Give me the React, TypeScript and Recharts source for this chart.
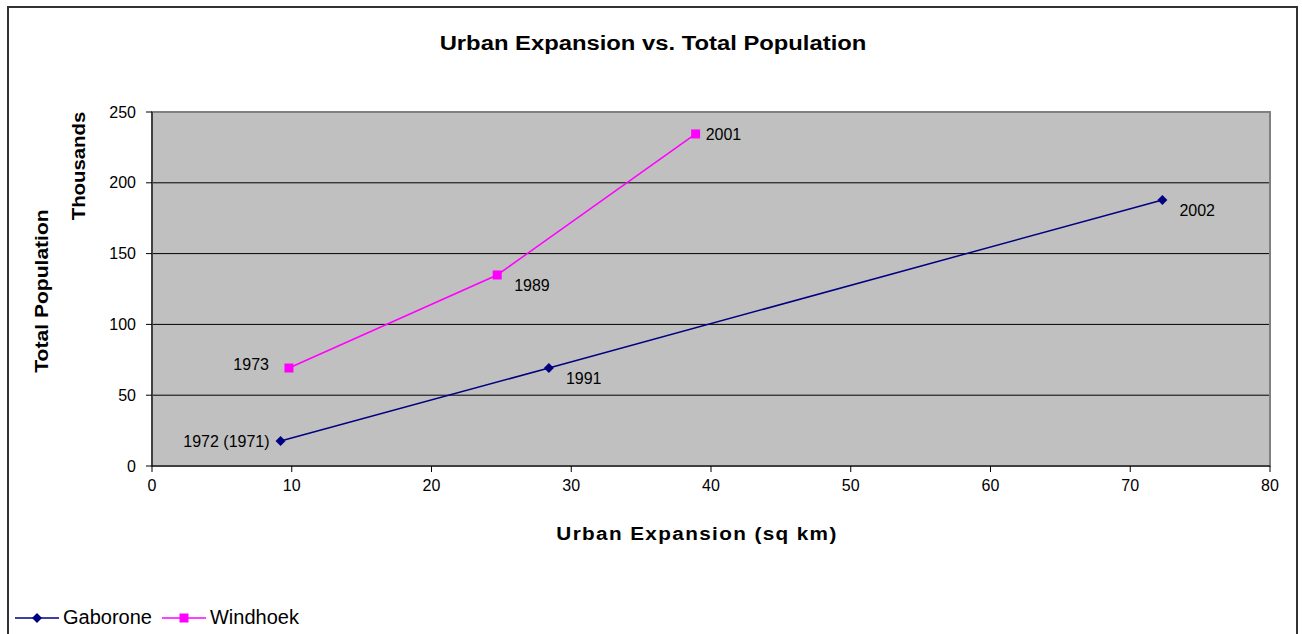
import React from 'react';
import {
  ComposedChart,
  Line,
  XAxis,
  YAxis,
  CartesianGrid,
  ReferenceArea,
  LabelList,
} from 'recharts';

const gaboroneX = [9.2, 28.4, 72.3];
const gaboroneY = [17.7, 69.2, 187.9];
const gaboroneYears = ['1972 (1971)', '1991', '2002'];

const windhoekX = [9.8, 24.7, 38.9];
const windhoekY = [69.2, 134.9, 234.5];
const windhoekYears = ['1973', '1989', '2001'];

const xTicks = [0, 10, 20, 30, 40, 50, 60, 70, 80];
const yTicks = [0, 50, 100, 150, 200, 250];

const gaborone = gaboroneX.map((x, i) => ({ x, y: gaboroneY[i], year: gaboroneYears[i] }));
const windhoek = windhoekX.map((x, i) => ({ x, y: windhoekY[i], year: windhoekYears[i] }));

// where each year label sits relative to its point
const gaboronePlace = ['left', 'belowRight', 'belowRight'];
const windhoekPlace = ['farLeft', 'belowRight', 'right'];

const FONT = '"Liberation Sans", Arial, sans-serif';
const NAVY = '#000080';
const MAGENTA = '#ff00ff';

function Diamond(props: any) {
  const { cx, cy } = props;
  if (cx == null || cy == null) return null;
  return <path d={`M${cx},${cy - 5}L${cx + 5},${cy}L${cx},${cy + 5}L${cx - 5},${cy}Z`} fill={NAVY} />;
}

function Square(props: any) {
  const { cx, cy } = props;
  if (cx == null || cy == null) return null;
  return <rect x={cx - 4.5} y={cy - 4.5} width={9} height={9} fill={MAGENTA} />;
}

function yearLabel(places: string[]) {
  return (props: any) => {
    const { x, y, value, index } = props;
    const p = places[index];
    let tx = x + 10;
    let ty = y;
    let anchor: 'start' | 'end' = 'start';
    if (p === 'left') {
      tx = x - 11;
      anchor = 'end';
    } else if (p === 'farLeft') {
      tx = x - 20;
      ty = y - 4;
      anchor = 'end';
    } else if (p === 'belowRight') {
      tx = x + 17;
      ty = y + 10;
    }
    return (
      <text x={tx} y={ty} dy="0.35em" textAnchor={anchor} fontSize={16} fontFamily={FONT} fill="#000">
        {value}
      </text>
    );
  };
}

function LegendItem({ color, marker, label }: { color: string; marker: 'diamond' | 'square'; label: string }) {
  return (
    <span style={{ display: 'inline-flex', alignItems: 'center', marginRight: 10 }}>
      <svg width={44} height={12} style={{ marginRight: 4 }}>
        <line x1={0} y1={6} x2={44} y2={6} stroke={color} strokeWidth={1.5} />
        {marker === 'diamond' ? (
          <path d="M22,1L27,6L22,11L17,6Z" fill={color} />
        ) : (
          <rect x={17.5} y={1.5} width={9} height={9} fill={color} />
        )}
      </svg>
      <span>{label}</span>
    </span>
  );
}

const centered = (x: number, y: number, t: string): React.CSSProperties => ({
  position: 'absolute',
  left: x,
  top: y,
  whiteSpace: 'nowrap',
  fontWeight: 'bold',
  transform: `translate(-50%, -50%) ${t}`,
});

export default function App() {
  return (
    <div style={{ position: 'fixed', left: 0, top: 0, width: 1302, height: 634, background: '#fff', fontFamily: FONT, overflow: 'hidden' }}>
      <div style={{ position: 'absolute', left: 7, top: 6, width: 1291, height: 700, border: '2px solid #333', boxSizing: 'border-box' }} />
      <div style={{ ...centered(653, 43, 'scaleX(1.19)'), fontSize: 20 }}>Urban Expansion vs. Total Population</div>
      <div style={{ ...centered(697, 534, 'scaleX(1.15)'), fontSize: 18, letterSpacing: 1.2 }}>Urban Expansion (sq km)</div>
      <div style={{ ...centered(42, 291, 'rotate(-90deg) scaleX(1.17)'), fontSize: 18 }}>Total Population</div>
      <div style={{ ...centered(79, 166, 'rotate(-90deg) scaleX(1.13)'), fontSize: 18 }}>Thousands</div>
      <div style={{ position: 'absolute', left: 15, top: 606, fontSize: 20, display: 'flex' }}>
        <LegendItem color={NAVY} marker="diamond" label="Gaborone" />
        <LegendItem color={MAGENTA} marker="square" label="Windhoek" />
      </div>
      <div style={{ position: 'absolute', left: 0, top: 0 }}>
        <ComposedChart width={1302} height={634} margin={{ top: 112, right: 32, left: 92, bottom: 138 }}>
          <CartesianGrid fill="#c0c0c0" stroke="#000" vertical={false} />
          <ReferenceArea x1={0} x2={80} y1={0} y2={250} fill="none" stroke="#808080" strokeWidth={2} fillOpacity={0} />
          <XAxis
            type="number"
            dataKey="x"
            domain={[0, 80]}
            ticks={xTicks}
            height={30}
            stroke="#000"
            tickSize={6}
            tick={{ fill: '#000', fontSize: 16, fontFamily: FONT }}
            tickMargin={8}
          />
          <YAxis
            type="number"
            dataKey="y"
            domain={[0, 250]}
            ticks={yTicks}
            width={60}
            stroke="#000"
            tickSize={6}
            tick={{ fill: '#000', fontSize: 16, fontFamily: FONT }}
            tickMargin={10}
          />
          <Line
            data={gaborone}
            dataKey="y"
            stroke={NAVY}
            strokeWidth={1.5}
            dot={<Diamond />}
            activeDot={false}
            isAnimationActive={false}
          >
            <LabelList dataKey="year" content={yearLabel(gaboronePlace)} />
          </Line>
          <Line
            data={windhoek}
            dataKey="y"
            stroke={MAGENTA}
            strokeWidth={1.5}
            dot={<Square />}
            activeDot={false}
            isAnimationActive={false}
          >
            <LabelList dataKey="year" content={yearLabel(windhoekPlace)} />
          </Line>
        </ComposedChart>
      </div>
    </div>
  );
}
